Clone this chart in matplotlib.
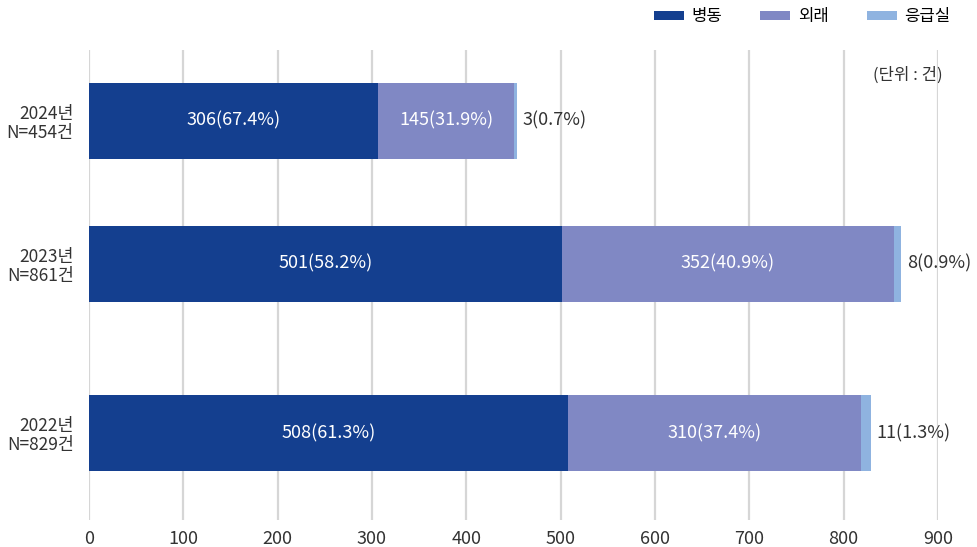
import matplotlib.pyplot as plt
import numpy as np

plt.rcParams['font.family'] = ['Noto Sans CJK KR', 'DejaVu Sans']

years = ["2024년\nN=454건", "2023년\nN=861건", "2022년\nN=829건"]
ward = [306, 501, 508]
outpatient = [145, 352, 310]
emergency = [3, 8, 11]
ward_pct = [67.4, 58.2, 61.3]
out_pct = [31.9, 40.9, 37.4]
emer_pct = [0.7, 0.9, 1.3]

series_names = ["병동", "외래", "응급실"]
colors = ["#143f8f", "#8088c4", "#8fb3e0"]

# layout: bar centres (axis units, bottom=0, top=10)
ypos = [8.49, 5.45, 1.85]
bar_h = 1.62

fig = plt.figure(figsize=(9.78, 5.47), dpi=100)
ax = fig.add_axes([0.091, 0.049, 0.868, 0.86])

ward = np.array(ward)
outpatient = np.array(outpatient)
emergency = np.array(emergency)

ax.barh(ypos, ward, height=bar_h, color=colors[0], label=series_names[0], zorder=3)
ax.barh(ypos, outpatient, left=ward, height=bar_h, color=colors[1], label=series_names[1], zorder=3)
ax.barh(ypos, emergency, left=ward + outpatient, height=bar_h, color=colors[2], label=series_names[2], zorder=3)

for i, y in enumerate(ypos):
    ax.text(ward[i] / 2, y, f"{ward[i]}({ward_pct[i]}%)", ha="center", va="center",
            color="white", fontsize=13, zorder=4)
    ax.text(ward[i] + outpatient[i] / 2, y, f"{outpatient[i]}({out_pct[i]}%)", ha="center",
            va="center", color="white", fontsize=13, zorder=4)
    total = ward[i] + outpatient[i] + emergency[i]
    ax.text(total + 6, y, f"{emergency[i]}({emer_pct[i]}%)", ha="left", va="center",
            color="#333333", fontsize=13, zorder=4)

ax.set_xlim(0, 900)
ax.set_ylim(0, 10)
ax.set_xticks(range(0, 901, 100))
ax.set_yticks(ypos)
ax.set_yticklabels(years, fontsize=12.5, color="#333333", linespacing=1.05)
ax.tick_params(axis="x", labelsize=13, colors="#333333", length=0, pad=7)
ax.tick_params(axis="y", length=0, pad=11)
ax.grid(axis="x", color="#d6d6d6", linewidth=1.6, zorder=0)
for s in ax.spines.values():
    s.set_visible(False)

ax.text(1.005, 0.945, "(단위 : 건)", transform=ax.transAxes, ha="right", va="center",
        fontsize=12, color="#333333")

fig.legend(loc="upper right", bbox_to_anchor=(0.972, 0.985), ncol=3, frameon=False,
           fontsize=12, handlelength=1.8, handleheight=0.45, columnspacing=2.3,
           handletextpad=0.45, borderpad=0, borderaxespad=0)

fig.savefig("out.png", dpi=100)
